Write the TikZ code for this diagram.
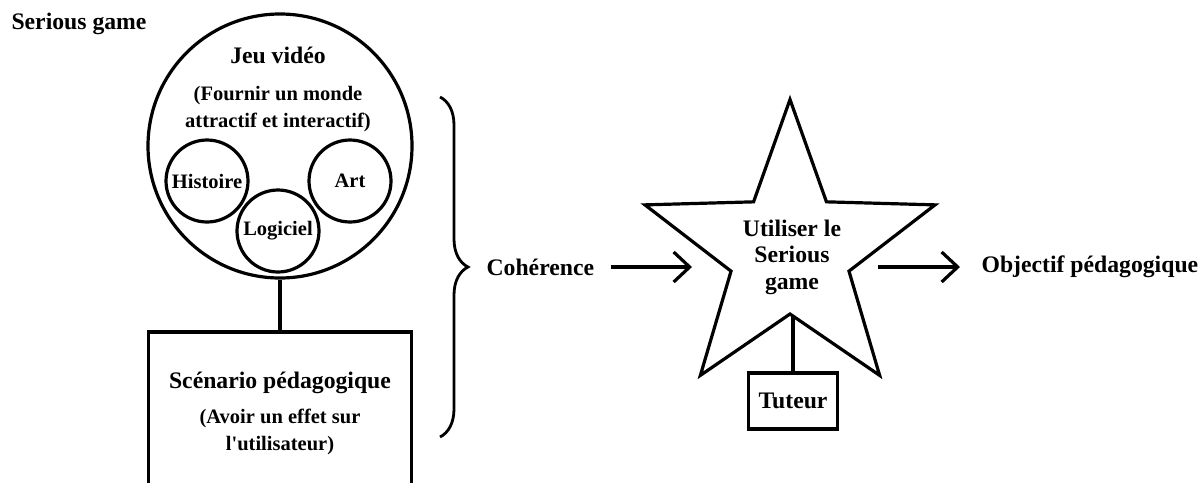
\documentclass[tikz,border=0pt]{standalone}
\usepackage{fontspec}
\setmainfont{Liberation Serif}
\usetikzlibrary{arrows.meta,positioning,shapes.geometric,decorations.pathreplacing}

\newcommand{\grand}{\bfseries\fontsize{23.7}{27}\selectfont}
\newcommand{\petit}{\bfseries\fontsize{20.5}{22}\selectfont}

\begin{document}
\begin{tikzpicture}[x=1pt, y=-1pt, line width=3.2pt,
    lab/.style={font=\grand, align=center, inner sep=0pt},
    sub/.style={draw, circle, inner sep=0pt, minimum size=82pt, font=\petit},
    box/.style={draw, rectangle, align=center, font=\grand},
    arr/.style={-{Straight Barb[length=16pt, width=30pt]}}
  ]
    \useasboundingbox (0,0) rectangle (1198,482);
    \clip (0,0) rectangle (1198,482);

    \node[lab] (sg) at (79,24) {Serious game};

    % jeu video
    \node[draw, circle, minimum size=264pt] (jeu) at (280,146) {};
    \node[lab] (jeutxt) at (278,89) {Jeu vidéo\\[10pt]\petit(Fournir un monde\\\petit attractif et interactif)};
    \node[sub] (hist) at (207,181) {Histoire};
    \node[sub] (art) at (350,181) {Art};
    \node[sub] (logi) at (278,231) {Logiciel};

    \node[box, minimum width=263pt, minimum height=162pt] (scen) at (280,413)
      {Scénario pédagogique\\[8pt]\petit(Avoir un effet sur\\\petit l\textquotesingle utilisateur)};
    \draw (jeu.south) -- (scen.north);

    % accolade
    \coordinate (bractop) at (440,97);
    \coordinate (bracbot) at (440,437);
    \draw[line width=2.8pt, decorate, decoration={brace, amplitude=28pt}] (bractop) -- (bracbot);

    \node[lab, anchor=west] (coh) at (485,267) {Cohérence};
    \coordinate (inarr) at (692,267);
    \draw[arr, shorten <=15pt] (coh.east) -- (inarr);

    % etoile
    \node[draw, star, star points=5, star point ratio=2.46, minimum size=305pt, inner sep=0pt] (star) at (790,252) {};
    \node[lab, font=\bfseries\fontsize{23.7}{26.5}\selectfont] (use) at (792,257) {Utiliser le\\Serious\\game};
    \node[box, minimum width=89pt, minimum height=56pt, inner sep=0pt] (tut) at (793,401) {Tuteur};
    \draw (tut.north) -- (tut.north |- star.inner point 3);

    \node[lab, anchor=west] (obj) at (980,267) {Objectif pédagogique};
    \coordinate (outarr) at (878,267);
    \draw[arr, shorten >=20pt] (outarr) -- (obj.west);
\end{tikzpicture}
\end{document}
